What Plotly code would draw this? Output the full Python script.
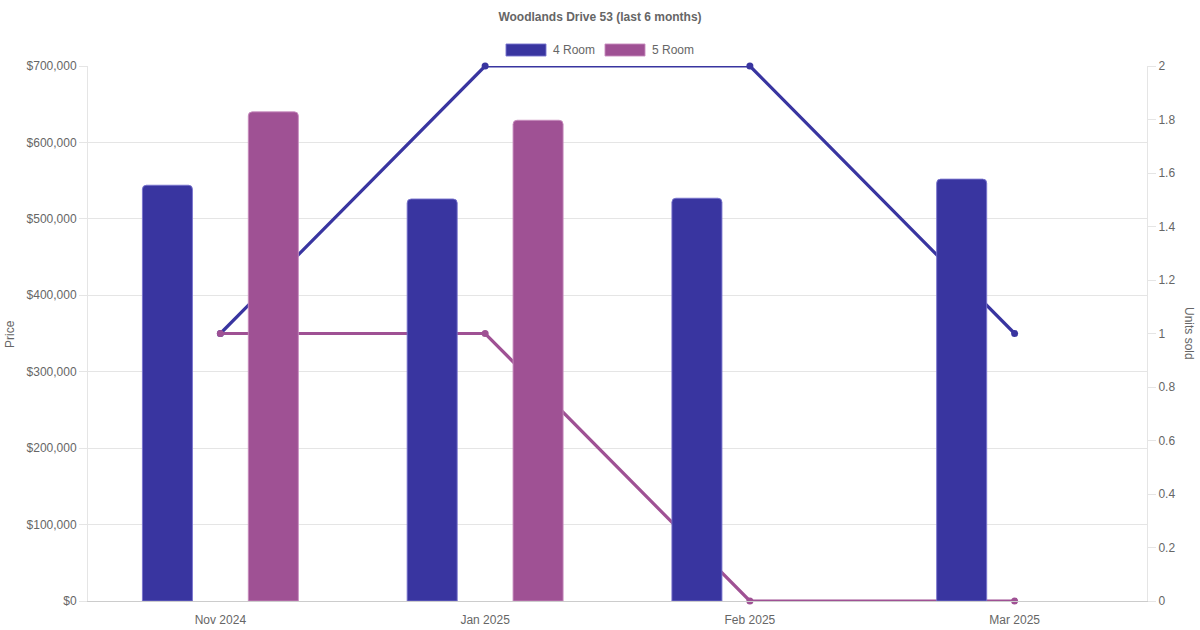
import plotly.graph_objects as go

# data
months = ["Nov 2024", "Jan 2025", "Feb 2025", "Mar 2025"]
price_4room = [544000, 526000, 527000, 552000]
price_5room = [640000, 629000, None, None]
units_4room = [1, 2, 2, 1]
units_5room = [1, 1, 0, 0]

BLUE = "#3935a0"
PURPLE = "#9f5194"
BLUE_EDGE = "rgba(120,115,205,0.9)"
PURPLE_EDGE = "rgba(200,140,190,0.9)"
GRID = "#e5e5e5"
TXT = "#666666"
FONT = "Liberation Sans, Arial, sans-serif"

W, H = 1200, 630
L, R, T, B = 88, 53, 66, 29


def px_x(p):
    # window pixel -> paper fraction
    return (p - L) / (W - L - R)


def px_y(p):
    return (H - B - p) / (H - T - B)


fig = go.Figure()

# lines first (on the main y axis) so the bars on the overlay sit on top
fig.add_trace(go.Scatter(x=months, y=units_4room, mode="lines+markers", name="4 Room units",
                         line=dict(color=BLUE, width=3.2), marker=dict(color=BLUE, size=7),
                         cliponaxis=False, showlegend=False, yaxis="y"))
fig.add_trace(go.Scatter(x=months, y=units_5room, mode="lines+markers", name="5 Room units",
                         line=dict(color=PURPLE, width=3.2), marker=dict(color=PURPLE, size=7),
                         cliponaxis=False, showlegend=False, yaxis="y"))

fig.add_trace(go.Bar(x=months, y=price_4room, name="4 Room", width=0.189, offset=-0.2945,
                     marker=dict(color=BLUE, line=dict(color=BLUE_EDGE, width=1), cornerradius=4),
                     showlegend=False, yaxis="y2"))
fig.add_trace(go.Bar(x=months, y=price_5room, name="5 Room", width=0.189, offset=0.1055,
                     marker=dict(color=PURPLE, line=dict(color=PURPLE_EDGE, width=1), cornerradius=4),
                     showlegend=False, yaxis="y2"))

# chart.js style legend boxes
shapes = []
annotations = []
for x0, label, col, edge in [(506, "4 Room", BLUE, BLUE_EDGE),
                             (605, "5 Room", PURPLE, PURPLE_EDGE)]:
    shapes.append(dict(type="rect", xref="paper", yref="paper",
                       x0=px_x(x0), x1=px_x(x0 + 40), y0=px_y(56), y1=px_y(44),
                       fillcolor=col, line=dict(color=edge, width=1)))
    annotations.append(dict(text=label, xref="paper", yref="paper", x=px_x(x0 + 45), y=px_y(50),
                            xanchor="left", yanchor="middle", showarrow=False,
                            font=dict(size=12, color=TXT, family=FONT)))

annotations.append(dict(text="Price", xref="paper", yref="paper", x=px_x(10), y=px_y(334),
                        textangle=-90, showarrow=False, xanchor="center", yanchor="middle",
                        font=dict(size=12, color=TXT, family=FONT)))
annotations.append(dict(text="Units sold", xref="paper", yref="paper", x=px_x(1189), y=px_y(333),
                        textangle=90, showarrow=False, xanchor="center", yanchor="middle",
                        font=dict(size=12, color=TXT, family=FONT)))

fig.update_layout(
    width=W, height=H,
    margin=dict(l=L, r=R, t=T, b=B),
    paper_bgcolor="white", plot_bgcolor="white",
    font=dict(family=FONT, size=12, color=TXT),
    title=dict(text="<b>Woodlands Drive 53 (last 6 months)</b>", x=0.5, xref="container",
               xanchor="center", y=1 - 17 / H, yanchor="middle", yref="container",
               font=dict(size=12, color=TXT, family=FONT)),
    barmode="overlay",
    showlegend=False,
    xaxis=dict(type="category", categoryorder="array", categoryarray=months,
               showgrid=False, showline=True, linecolor="#cccccc", linewidth=1, automargin=False,
               ticks="", ticklabelstandoff=8, tickfont=dict(size=12, color=TXT), zeroline=False),
    yaxis=dict(side="right", range=[0, 2], dtick=0.2, showgrid=False, zeroline=False,
               showline=True, linecolor=GRID, ticks="outside", ticklen=8, tickcolor=GRID,
               automargin=False, tickfont=dict(size=12, color=TXT)),
    yaxis2=dict(side="left", overlaying="y", range=[0, 700000], dtick=100000,
                tickprefix="$", tickformat=",d", showgrid=True, gridcolor=GRID, zeroline=False,
                showline=True, linecolor=GRID, ticks="outside", ticklen=8, tickcolor=GRID,
                automargin=False, tickfont=dict(size=12, color=TXT)),
    shapes=shapes,
    annotations=annotations,
)

# drop the default 8px body margin so the figure sits at the window's top left
fig.write_html("out.html", config={"displayModeBar": False},
               post_script="document.body.style.margin='0';")
